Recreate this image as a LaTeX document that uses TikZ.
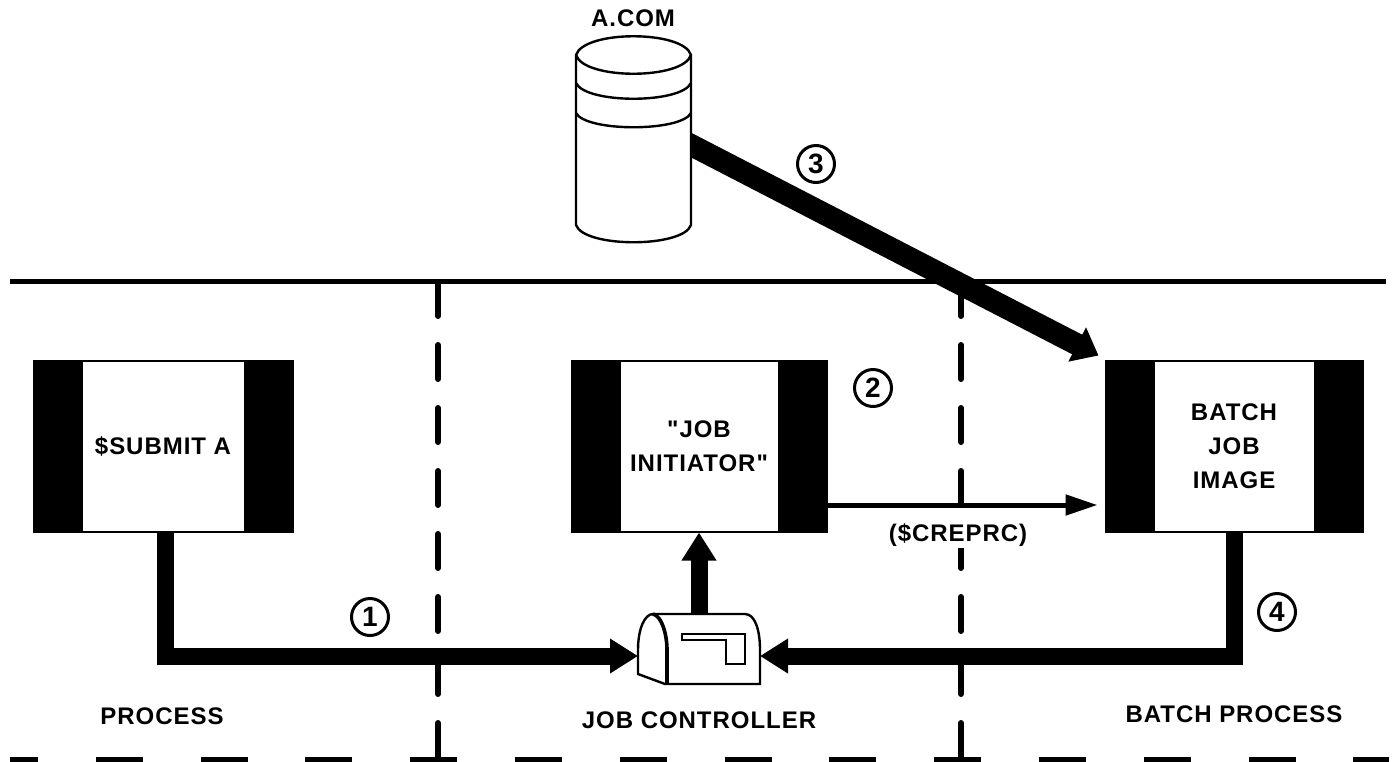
\documentclass[tikz,border=0pt]{standalone}
\usepackage{fontspec}
\setmainfont[LetterSpace=4,Ligatures=TeXOff]{Liberation Sans}
\usetikzlibrary{arrows.meta,calc,positioning}
\definecolor{ink}{HTML}{000000}
\tikzset{
  tagtext/.style={font=\fontsize{12}{17}\selectfont\bfseries, text=ink, align=center, inner sep=0pt},
  procbox/.style={draw=ink, line width=1pt, fill=white, minimum height=85.5pt, inner sep=0pt, tagtext,
    path picture={
      \fill[ink] (path picture bounding box.south west) rectangle ($(path picture bounding box.north west)+(49,0)$);
      \fill[ink] (path picture bounding box.south east) rectangle ($(path picture bounding box.north east)+(-49,0)$);
    }},
  stepnum/.style={draw=ink, circle, line width=1.5pt, minimum size=18.5pt, inner sep=0pt, font=\fontsize{14}{14}\selectfont\bfseries},
  ghost/.style={inner sep=0pt, outer sep=0pt},
  bigarrow/.style={ink, line width=8.5pt, -{Triangle[length=14pt,width=16.5pt]}},
  widearrow/.style={ink, line width=11pt, -{Triangle[length=12pt,width=18.5pt]}},
  thinarrow/.style={ink, line width=2.5pt, -{Triangle[length=16pt,width=10pt]}},
  divider/.style={ink, line width=3pt, line cap=round, dash pattern=on 17pt off 14.5pt},
}
\begin{document}
\begin{tikzpicture}[x=0.5pt, y=-0.5pt]
    \useasboundingbox (0,0) rectangle (1396,761);
    % bands of the layout
    \coordinate (railL) at (10,281);   \coordinate (railR) at (1386,281);
    \coordinate (cutAtop) at (438,282); \coordinate (cutAend) at (438,758);
    \coordinate (cutBtop) at (961,282); \coordinate (cutBend) at (961,758);
    \coordinate (floorL) at (10,760);  \coordinate (floorR) at (1389,760);
    \draw[ink, line width=2.5pt] (railL) -- (railR);
    \draw[divider] (cutAtop) -- (cutAend);
    \draw[divider] (cutBtop) -- (cutBend);
    \draw[ink, line width=3pt, dash pattern=on 23.5pt off 28.9pt, dash phase=9.5pt] (floorL) -- (floorR);

    \node[procbox, minimum width=129.5pt] (submit) at (163,446) {\$SUBMIT A};
    \node[procbox, minimum width=127.5pt] (initiator) at (699,446) {"JOB\\INITIATOR"};
    \node[procbox, minimum width=128.5pt] (batch) at (1234,446) {BATCH\\JOB\\IMAGE};

    \node[ghost, minimum width=57.5pt, minimum height=103pt] (disk) at (633.5,139) {};
    \draw[widearrow, shorten <=-10pt] ([yshift=-3pt]disk.east) -- ($(batch.north west)+(-6,-4)$);

    % disk and mailbox
    \draw[ink, line width=1.2pt, fill=white] (576,55) -- (576,225) .. controls (584,248) and (683,248) .. (691,225) -- (691,55)
      .. controls (683,30) and (584,30) .. cycle;
    \draw[ink, line width=1.2pt] (576,55) .. controls (584,80) and (683,80) .. (691,55);
    \draw[ink, line width=1.2pt] (576,83) .. controls (586,104) and (681,104) .. (691,83);
    \draw[ink, line width=1.2pt] (576,113) .. controls (586,132) and (681,132) .. (691,113);
    \node[ghost, minimum width=61pt, minimum height=35pt] (mailbox) at (699,649) {};
    \draw[ink, line width=1.2pt, fill=white] (638,674) -- (638,650) .. controls (638,628) and (645,614) .. (653,614)
      -- (745,614) .. controls (755,614) and (760,630) .. (760,650) -- (760,684) -- (665,684) -- cycle;
    \draw[ink, line width=1.8pt] (653,614) .. controls (662,616) and (667,635) .. (667,650) -- (667,684);
    \draw[ink, line width=1.2pt] (682,634) -- (745,634) -- (745,664) -- (726,664) -- (726,640) -- (682,640) -- cycle;

    \draw[bigarrow] ([xshift=1pt]submit.south) |- ([yshift=-3.5pt]mailbox.west);
    \draw[bigarrow] (batch.south) |- ([yshift=-3.5pt]mailbox.east);
    \draw[bigarrow] (mailbox.north) -- (initiator.south);
    \draw[thinarrow] ([yshift=-29.5pt]initiator.east) -- ([xshift=-3.5pt,yshift=-29.5pt]batch.west);

    \node[tagtext] (disklabel) at (633,18) {A.COM};
    \node[tagtext, fill=white, inner sep=1pt] (creprc) at (958,535) {(\$CREPRC)};
    \node[tagtext] (proclabel) at (162,716) {PROCESS};
    \node[tagtext] (ctrllabel) at (699,720) {JOB CONTROLLER};
    \node[tagtext] (batchlabel) at (1234,714) {BATCH PROCESS};

    \node[stepnum] (one) at (370,617) {1};
    \node[stepnum] (two) at (873,388) {2};
    \node[stepnum] (three) at (816,164) {3};
    \node[stepnum] (four) at (1277,612) {4};
\end{tikzpicture}
\end{document}
